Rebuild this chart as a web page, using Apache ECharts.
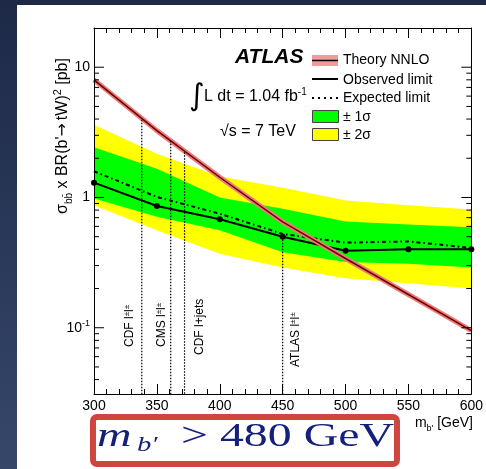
<!DOCTYPE html>
<html><head><meta charset="utf-8">
<script src="https://cdn.jsdelivr.net/npm/echarts@6/dist/echarts.min.js"></script>
<style>
html,body{margin:0;padding:0;width:486px;height:469px;overflow:hidden;background:linear-gradient(to bottom,#1d2947,#36476a);}
#c{width:486px;height:469px;}
</style></head><body><div id="c"></div>
<script>
// ---- data ----
const masses   = [300, 350, 400, 450, 500, 550, 600];
const observed = [1.30, 0.86, 0.68, 0.50, 0.39, 0.40, 0.40];
const expected = [1.59, 1.01, 0.75, 0.525, 0.45, 0.46, 0.41];
const plus1s   = [2.43, 1.66, 1.00, 0.82, 0.655, 0.62, 0.59];
const minus1s  = [0.98, 0.71, 0.56, 0.38, 0.32, 0.31, 0.29];
const plus2s   = [3.62, 2.17, 1.45, 1.19, 0.95, 0.87, 0.81];
const minus2s  = [0.87, 0.56, 0.37, 0.29, 0.24, 0.22, 0.20];
const theory   = [8.0, 3.26, 1.43, 0.65, 0.34, 0.18, 0.095];
const prevMass  = [338, 361, 372, 450];
const prevTop   = [3.95, 2.73, 2.22, 0.50];
const prevLabel = ['CDF l{s|±}l{s|±}', 'CMS l{s|±}l{s|±}', 'CDF l+jets', 'ATLAS l{s|±}l{s|±}'];
const xTickLabels = ['300','350','400','450','500','550','600'];
const yMajor = [0.1, 1, 10];
const yMajorLabels = ['10{s|-1}', '1', '10'];
const yMinor = [0.04,0.05,0.06,0.07,0.08,0.09,0.2,0.3,0.4,0.5,0.6,0.7,0.8,0.9,2,3,4,5,6,7,8,9];
const xMin = 300, xMax = 600, yMin = 0.031, yMax = 20;

const FF = 'Liberation Sans, Arial, sans-serif';
const chart = echarts.init(document.getElementById('c'));
const pairs = a => masses.map((m,i)=>[m,a[i]]);

function band(upper, lower, color){
  return {type:'custom', silent:true, z:1, data:[[450,1]],
    renderItem:(p,api)=>{
      const pts=[];
      masses.forEach((m,i)=>pts.push(api.coord([m,upper[i]])));
      for(let i=masses.length-1;i>=0;i--) pts.push(api.coord([masses[i],lower[i]]));
      return {type:'polygon', shape:{points:pts}, style:{fill:color}};
    }};
}
const axisCommon = {
  type:'value', min:xMin, max:xMax, interval:50, z:10,
  axisLine:{show:true, onZero:false, lineStyle:{color:'#000', width:1}},
  axisTick:{show:true, inside:true, length:10, lineStyle:{color:'#000'}},
  minorTick:{show:true, splitNumber:5, length:5, lineStyle:{color:'#000'}},
  splitLine:{show:false}, minorSplitLine:{show:false}
};
const yCommon = {
  type:'log', min:yMin, max:yMax, z:10,
  axisLine:{show:true, onZero:false, lineStyle:{color:'#000', width:1}},
  axisTick:{show:false}, axisLabel:{show:false}, splitLine:{show:false}
};

chart.setOption({
  animation:false,
  grid:{left:94, right:10, top:28, bottom:75},
  xAxis:[
    Object.assign({}, axisCommon, {position:'bottom',
      axisLabel:{show:true, color:'#000', fontSize:14, fontFamily:FF, margin:5,
        formatter:(v)=>{const i=masses.indexOf(v); return i>=0?xTickLabels[i]:'';}}}),
    Object.assign({}, axisCommon, {position:'top', axisLabel:{show:false}})
  ],
  yAxis:[
    Object.assign({}, yCommon, {position:'left'}),
    Object.assign({}, yCommon, {position:'right'})
  ],
  series:[
    band(plus2s, minus2s, '#ffff00'),
    band(plus1s, minus1s, '#00ff00'),
    {type:'line', z:3, data:pairs(expected), symbol:'none', lineStyle:{color:'#000', width:2, type:[4,3,1.5,3]}},
    {type:'line', z:3, data:pairs(observed), symbol:'circle', symbolSize:6, itemStyle:{color:'#000'}, lineStyle:{color:'#000', width:2}},
    {type:'line', z:4, data:pairs(theory), symbol:'none', lineStyle:{color:'#ef7a7a', width:5}},
    {type:'line', z:4, data:pairs(theory), symbol:'none', lineStyle:{color:'#6a0000', width:1.5}},
    {type:'custom', z:5, silent:true, data:prevMass.map((m,i)=>[m,prevTop[i]]),
      renderItem:(p,api)=>{
        const i=p.dataIndex;
        const top=api.coord([prevMass[i],prevTop[i]]);
        const bot=api.coord([prevMass[i],yMin]);
        const dx=[-12,-9,15,13][i], by=[47,47,39,27][i];
        return {type:'group', children:[
          {type:'line', shape:{x1:top[0],y1:top[1],x2:bot[0],y2:bot[1]}, style:{stroke:'#000', lineWidth:1.2, lineDash:[1.5,1.5]}},
          {type:'text', x:top[0]+dx, y:bot[1]-by, rotation:Math.PI/2,
            style:{text:prevLabel[i], fill:'#000', fontSize:12, fontFamily:FF, align:'left', verticalAlign:'middle',
              rich:{s:{fontSize:8, fontFamily:FF, fill:'#000', verticalAlign:'top', lineHeight:14}}}}
        ]};
      }},
    {type:'custom', z:11, silent:true, data:yMinor.map(v=>[xMin,v]),
      renderItem:(p,api)=>{
        const v=yMinor[p.dataIndex];
        const L=api.coord([xMin,v]), R=api.coord([xMax,v]);
        return {type:'group', children:[
          {type:'line', shape:{x1:L[0],y1:L[1],x2:L[0]+5,y2:L[1]}, style:{stroke:'#000',lineWidth:1}},
          {type:'line', shape:{x1:R[0],y1:R[1],x2:R[0]-5,y2:R[1]}, style:{stroke:'#000',lineWidth:1}}
        ]};
      }},
    {type:'custom', z:11, silent:true, data:yMajor.map(v=>[xMin,v]),
      renderItem:(p,api)=>{
        const i=p.dataIndex, v=yMajor[i];
        const L=api.coord([xMin,v]), R=api.coord([xMax,v]);
        return {type:'group', children:[
          {type:'line', shape:{x1:L[0],y1:L[1],x2:L[0]+10,y2:L[1]}, style:{stroke:'#000',lineWidth:1}},
          {type:'line', shape:{x1:R[0],y1:R[1],x2:R[0]-10,y2:R[1]}, style:{stroke:'#000',lineWidth:1}},
          {type:'text', x:L[0]-4, y:L[1], style:{text:yMajorLabels[i], fill:'#000', fontSize:14, fontFamily:FF,
            align:'right', verticalAlign:'middle', rich:{s:{fontSize:9, fontFamily:FF, fill:'#000', verticalAlign:'top', lineHeight:18}}}}
        ]};
      }}
  ],
  graphic:[
    {type:'rect', z:-10, shape:{x:17,y:5,width:469,height:464}, style:{fill:'#fff'}},
    // y axis title
    {type:'text', x:63, y:136, rotation:Math.PI/2, z:20,
      style:{text:'σ{sub|bb̄} x BR(b\'{ar|→}tW){sup|2} [pb]', fill:'#000', fontSize:16, fontFamily:FF, align:'center', verticalAlign:'middle',
        rich:{sub:{fontSize:10, fontFamily:FF, fill:'#000', verticalAlign:'bottom', lineHeight:22},
              ar:{fontSize:16, fontFamily:'DejaVu Sans', fill:'#000', lineHeight:22, padding:[0,3,0,0]},
              sup:{fontSize:11, fontFamily:FF, fill:'#000', verticalAlign:'top', lineHeight:22}}}},
    // x axis title
    {type:'text', x:473, y:423, z:20,
      style:{text:'m{sub|b\'} [GeV]', fill:'#000', fontSize:14, fontFamily:FF, align:'right', verticalAlign:'middle',
        rich:{sub:{fontSize:9, fontFamily:FF, fill:'#000', verticalAlign:'bottom', lineHeight:20}}}},
    // ATLAS
    {type:'text', x:235, y:57, z:20, style:{text:'ATLAS', fill:'#000', fontSize:21, fontWeight:'bold', fontStyle:'italic', fontFamily:FF, align:'left', verticalAlign:'middle'}},
    {type:'text', x:189, y:97, z:20, style:{text:'∫', fill:'#000', fontSize:30, fontFamily:'DejaVu Sans', align:'left', verticalAlign:'middle'}},
    {type:'text', x:204, y:97, z:20, style:{text:'L dt = 1.04 fb{s|-1}', fill:'#000', fontSize:16, fontFamily:FF, align:'left', verticalAlign:'middle',
      rich:{s:{fontSize:10, fontFamily:FF, fill:'#000', verticalAlign:'top', lineHeight:20}}}},
    {type:'text', x:220, y:132, z:20, style:{text:'√s = 7 TeV', fill:'#000', fontSize:16, fontFamily:FF, align:'left', verticalAlign:'middle'}},
    // legend
    {type:'rect', z:20, shape:{x:312,y:55,width:26,height:11}, style:{fill:'#f39a9a'}},
    {type:'line', z:21, shape:{x1:312,y1:60.5,x2:338,y2:60.5}, style:{stroke:'#000', lineWidth:1.5}},
    {type:'text', z:20, x:343, y:60, style:{text:'Theory NNLO', fill:'#000', fontSize:14, fontFamily:FF, align:'left', verticalAlign:'middle'}},
    {type:'line', z:21, shape:{x1:312,y1:79,x2:338,y2:79}, style:{stroke:'#000', lineWidth:2}},
    {type:'text', z:20, x:343, y:80, style:{text:'Observed limit', fill:'#000', fontSize:14, fontFamily:FF, align:'left', verticalAlign:'middle'}},
    {type:'line', z:21, shape:{x1:312,y1:98,x2:338,y2:98}, style:{stroke:'#000', lineWidth:2, lineDash:[2,4]}},
    {type:'text', z:20, x:343, y:98, style:{text:'Expected limit', fill:'#000', fontSize:14, fontFamily:FF, align:'left', verticalAlign:'middle'}},
    {type:'rect', z:20, shape:{x:312.5,y:110.5,width:26,height:12}, style:{fill:'#00ff00', stroke:'#444', lineWidth:1}},
    {type:'text', z:20, x:343, y:117, style:{text:'± 1σ', fill:'#000', fontSize:14, fontFamily:FF, align:'left', verticalAlign:'middle'}},
    {type:'rect', z:20, shape:{x:312.5,y:128.5,width:26,height:12}, style:{fill:'#ffff00', stroke:'#444', lineWidth:1}},
    {type:'text', z:20, x:343, y:135, style:{text:'± 2σ', fill:'#000', fontSize:14, fontFamily:FF, align:'left', verticalAlign:'middle'}},
    // result box
    {type:'rect', z:20, shape:{x:93,y:417,width:304,height:47,r:4}, style:{fill:'#fff', stroke:'#d0453d', lineWidth:6}},
    {type:'text', z:21, x:97, y:437, scaleX:1.45, style:{text:'m', fill:'#14207a', fontSize:33, fontStyle:'italic', fontFamily:'Liberation Serif', align:'left', verticalAlign:'middle'}},
    {type:'text', z:21, x:137, y:445, scaleX:1.3, style:{text:'b′', fill:'#14207a', fontSize:22, fontStyle:'italic', fontFamily:'Liberation Serif', align:'left', verticalAlign:'middle'}},
    {type:'text', z:21, x:181, y:437, scaleX:1.45, style:{text:'> 480 GeV', fill:'#14207a', fontSize:33, fontFamily:'Liberation Serif', align:'left', verticalAlign:'middle'}}
  ]
});
</script></body></html>
